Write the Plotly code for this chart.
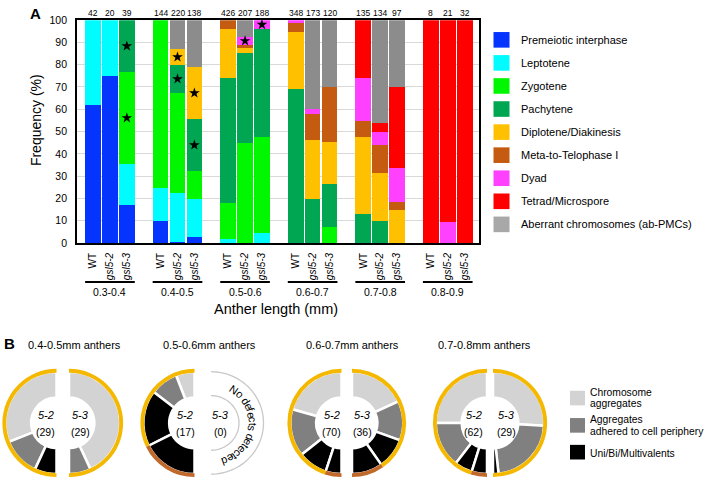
import math
import plotly.graph_objects as go

W, H = 710, 485

# ---------------- Panel A data ----------------
groups = ["0.3-0.4", "0.4-0.5", "0.5-0.6", "0.6-0.7", "0.7-0.8", "0.8-0.9"]
genotypes = ["WT", "<i>gsl5-2</i>", "<i>gsl5-3</i>"]
n_cells = [42, 20, 39, 144, 220, 138, 426, 207, 188, 348, 173, 120, 135, 134, 97, 8, 21, 32]

stage_names = ["Premeiotic interphase", "Leptotene", "Zygotene", "Pachytene",
               "Diplotene/Diakinesis", "Meta-to-Telophase I", "Dyad",
               "Tetrad/Microspore", "Aberrant chromosomes (ab-PMCs)"]
stage_colors = ["#0534FF", "#00FCFF", "#00F700", "#00A651", "#FFC000",
                "#C55A11", "#FF40FF", "#FF0000", "#8C8C8C"]
legend_colors = stage_colors[:-1] + ["#A8A8A8"]

premeiotic = [61.9, 75.0, 17.2, 9.7, 0.6, 2.5, 0, 0, 0, 0, 0, 0, 0, 0, 0, 0, 0, 0]
leptotene = [38.1, 25.0, 18.3, 14.8, 21.6, 17.2, 1.8, 0, 4.4, 0, 0, 0, 0, 0, 0, 0, 0, 0]
zygotene = [0, 0, 41.3, 75.5, 45.0, 12.4, 16.0, 45.0, 43.0, 0, 0, 6.9, 0, 0, 0, 0, 0, 0]
pachytene = [0, 0, 23.2, 0, 12.8, 23.7, 56.2, 40.1, 48.6, 68.9, 19.6, 19.4, 12.8, 9.9, 0, 0, 0, 0]
diplotene = [0, 0, 0, 0, 6.9, 23.0, 22.0, 2.2, 0, 25.7, 26.7, 19.0, 34.6, 21.5, 14.9, 0, 0, 0]
meta_telo = [0, 0, 0, 0, 0, 0, 4.0, 1.7, 0, 3.9, 11.4, 24.8, 7.3, 12.4, 3.3, 0, 0, 0]
dyad = [0, 0, 0, 0, 0, 0, 0, 3.4, 4.0, 1.5, 2.2, 0, 19.3, 5.8, 15.4, 0, 9.5, 0]
tetrad = [0, 0, 0, 0, 0, 0, 0, 0, 0, 0, 0, 0, 26.0, 4.1, 36.5, 100, 90.5, 100]
aberrant = [0, 0, 0, 0, 13.1, 21.2, 0, 7.6, 0, 0, 40.1, 29.9, 0, 46.3, 29.9, 0, 0, 0]
stage_values = [premeiotic, leptotene, zygotene, pachytene, diplotene,
                meta_telo, dyad, tetrad, aberrant]

star_bars = [2, 2, 4, 4, 5, 5, 7, 8]
star_stages = ["Zygotene", "Pachytene", "Pachytene", "Diplotene/Diakinesis",
               "Pachytene", "Diplotene/Diakinesis", "Dyad", "Dyad"]

y_ticks = list(range(0, 101, 10))

# ---------------- Panel B data ----------------
b_titles = ["0.4-0.5mm anthers", "0.5-0.6mm anthers", "0.6-0.7mm anthers", "0.7-0.8mm anthers"]
agg_52 = [18, 2, 29, 31]
adh_52 = [7, 3, 21, 18]
val_dip_52 = [4, 6, 13, 7]
val_meta_52 = [0, 6, 7, 6]
agg_53 = [25, 0, 13, 15]
adh_53 = [4, 0, 9, 13]
val_dip_53 = [0, 0, 7, 1]
val_meta_53 = [0, 0, 7, 0]
n_52 = [29, 17, 70, 62]
n_53 = [29, 0, 36, 29]
b_legend = [["Chromosome", "aggregates"], ["Aggregates", "adhered to cell periphery"],
            ["Uni/Bi/Multivalents"]]
no_defect_text = "No defects detected"

# colours for panel B
C_AGG, C_ADH, C_VAL = "#D3D3D3", "#808080", "#000000"
C_DIP, C_META = "#F5B800", "#C0692B"

FONT = "Liberation Sans, Arial, Helvetica, sans-serif"


def PX(x):
    return x / W


def PY(y):
    return 1 - y / H


def note(x, y, text, size, xref="paper", yref="paper", xanchor="center", angle=0):
    return dict(x=x, y=y, xref=xref, yref=yref, text=text, showarrow=False,
                xanchor=xanchor, yanchor="middle", textangle=angle, borderpad=0,
                font=dict(size=size, color="black", family=FONT))


fig = go.Figure()

# ---------------- Panel A: stacked bars ----------------
bar_x = [g * 4 + j for g in range(len(groups)) for j in range(len(genotypes))]
tick_text = [genotypes[j] for g in range(len(groups)) for j in range(len(genotypes))]

for name, vals, col in zip(stage_names, stage_values, stage_colors):
    fig.add_trace(go.Bar(x=bar_x, y=vals, name=name, marker=dict(color=col, line=dict(width=0)),
                         width=0.93, showlegend=False, hoverinfo="skip"))

# stars at segment midpoints
star_y = []
for b, st in zip(star_bars, star_stages):
    k = stage_names.index(st)
    base = sum(stage_values[i][b] for i in range(k))
    star_y.append(base + stage_values[k][b] / 2)
fig.add_trace(go.Scatter(x=[bar_x[b] for b in star_bars], y=star_y, mode="markers",
                         marker=dict(symbol="star", size=8, color="black", line=dict(width=0)),
                         showlegend=False, hoverinfo="skip", cliponaxis=False))

fig.update_layout(
    barmode="stack",
    xaxis=dict(domain=[PX(77), PX(479)], range=[-0.95, 22.85], tickmode="array",
               tickvals=bar_x, ticktext=tick_text, tickangle=-90, ticks="",
               tickfont=dict(size=10, color="black", family=FONT),
               showline=True, linecolor="black", linewidth=1.8, mirror=True,
               showgrid=False, zeroline=False, ticklabelstandoff=4),
    yaxis=dict(domain=[PY(243), PY(14.5)], range=[0, 100], tickmode="array",
               tickvals=y_ticks, ticks="", tickfont=dict(size=10.5, color="black", family=FONT),
               showline=True, linecolor="black", linewidth=1.8, mirror=True,
               showgrid=True, gridcolor="#D9D9D9", gridwidth=1, zeroline=False,
               ticklabelstandoff=6),
)

ann = []
shapes = []

# n labels
for xb, n in zip(bar_x, n_cells):
    ann.append(note(xb, PY(7), str(n), 8.5, xref="x"))

# group underlines and labels
for g, lab in enumerate(groups):
    shapes.append(dict(type="line", xref="x", yref="paper", x0=g * 4 - 0.47, x1=g * 4 + 2.47,
                       y0=PY(283), y1=PY(283), line=dict(color="black", width=2)))
    ann.append(note(g * 4 + 1, PY(293), lab, 10.5, xref="x"))

ann.append(note(PX(276), PY(311), "Anther length (mm)", 14.5))
ann.append(note(PX(36), PY(117), "Frequency (%)", 14, angle=-90))
ann.append(note(PX(35), PY(8), "<b>A</b>", 15))

# legend A
for i, (name, col) in enumerate(zip(stage_names, legend_colors)):
    yc = 34.7 + i * 23.65
    shapes.append(dict(type="rect", xref="paper", yref="paper", x0=PX(493.5), x1=PX(509.5),
                       y0=PY(yc + 8), y1=PY(yc - 8), fillcolor=col, line=dict(width=0)))
    ann.append(note(PX(520), PY(yc), name, 11, xanchor="left"))

# ---------------- Panel B: half donuts ----------------
cy = 427.5
R_OUT, R_RING_IN, R_IN, R_HOLE = 55.5, 51.5, 52.5, 26.0
left_cx = [56.5, 194.5, 341.5, 487.0]
right_cx = [69.0, 211.0, 352.0, 493.0]
label_off = [11, 9.5, 10, 13.5]
title_cx = [74.5, 209, 352.5, 484.5]
TRANSP = "rgba(0,0,0,0)"


def dom(cx, r):
    return dict(x=[PX(cx - r), PX(cx + r)], y=[PY(cy + r), PY(cy - r)])


def half_donut(cx, vals, cols, side, r, hole, line_w):
    v = [a for a in vals if a > 0]
    c = [cc for a, cc in zip(vals, cols) if a > 0]
    if not v:
        return
    tot = sum(v)
    lc = ["white"] * len(v)
    lw = [line_w] * len(v)
    if side == "left":
        values = [tot] + v
        colors = [TRANSP] + c
        lcol = [TRANSP] + lc
        lwid = [0] + lw
        direction = "counterclockwise"
    else:
        values = v + [tot]
        colors = c + [TRANSP]
        lcol = lc + [TRANSP]
        lwid = lw + [0]
        direction = "clockwise"
    fig.add_trace(go.Pie(values=values, marker=dict(colors=colors, line=dict(color=lcol, width=lwid)),
                         sort=False, direction=direction, rotation=0, hole=hole,
                         domain=dom(cx, r), textinfo="none", hoverinfo="skip",
                         showlegend=False))


for d in range(4):
    half_donut(left_cx[d], [agg_52[d], adh_52[d], val_dip_52[d], val_meta_52[d]],
               [C_AGG, C_ADH, C_VAL, C_VAL], "left", R_IN, R_HOLE / R_IN, 2.5)
    half_donut(right_cx[d], [agg_53[d], adh_53[d], val_dip_53[d], val_meta_53[d]],
               [C_AGG, C_ADH, C_VAL, C_VAL], "right", R_IN, R_HOLE / R_IN, 2.5)
    half_donut(left_cx[d], [agg_52[d] + adh_52[d] + val_dip_52[d], val_meta_52[d]],
               [C_DIP, C_META], "left", R_OUT, R_RING_IN / R_OUT, 0)
    half_donut(right_cx[d], [agg_53[d] + adh_53[d] + val_dip_53[d], val_meta_53[d]],
               [C_DIP, C_META], "right", R_OUT, R_RING_IN / R_OUT, 0)

    ann.append(note(PX(left_cx[d] - label_off[d]), PY(419.5), "<i>5-2</i>", 11))
    ann.append(note(PX(left_cx[d] - label_off[d]), PY(437), "(%d)" % n_52[d], 10.5))
    ann.append(note(PX(right_cx[d] + label_off[d]), PY(419.5), "<i>5-3</i>", 11))
    ann.append(note(PX(right_cx[d] + label_off[d]), PY(437), "(%d)" % n_53[d], 10.5))
    ann.append(note(PX(title_cx[d]), PY(348), b_titles[d], 11))

    if n_53[d] == 0:
        cx0 = right_cx[d]
        for rr in (52.5, 28.0):
            pts = []
            for k in range(0, 61):
                th = math.radians(k * 3)
                pts.append((PX(cx0 + rr * math.sin(th)), PY(cy - rr * math.cos(th))))
            path = "M " + " L ".join("%.5f,%.5f" % p for p in pts)
            shapes.append(dict(type="path", xref="paper", yref="paper", path=path,
                               line=dict(color="#C8C8C8", width=1.3)))
        widths = {"N": 7.2, "o": 5.6, " ": 2.8, "d": 5.6, "e": 5.6, "f": 2.8, "c": 5.0,
                  "t": 2.8, "s": 5.0}
        fs = 11
        rt = 41.5
        ang = math.radians(29)
        for ch in no_defect_text:
            w = widths.get(ch, 5.5) * fs / 10
            mid = ang + (w / 2) / rt
            if ch != " ":
                ann.append(note(PX(cx0 + rt * math.sin(mid)), PY(cy - rt * math.cos(mid)),
                                ch, fs, angle=math.degrees(mid)))
            ang += w / rt

ann.append(note(PX(9), PY(346), "<b>B</b>", 15))

# legend B
b_leg_cols = [C_AGG, C_ADH, C_VAL]
b_leg_y = [402, 430, 457.5]
for cc, yc, lines in zip(b_leg_cols, b_leg_y, b_legend):
    shapes.append(dict(type="rect", xref="paper", yref="paper", x0=PX(570), x1=PX(585),
                       y0=PY(yc + 7.5), y1=PY(yc - 7.5), fillcolor=cc, line=dict(width=0)))
    ys = [yc - 5.8, yc + 5.8] if len(lines) == 2 else [yc + 1.5]
    for t, yy in zip(lines, ys):
        ann.append(note(PX(589), PY(yy), t, 10.3, xanchor="left"))

fig.update_layout(width=W, height=H, margin=dict(l=0, r=0, t=0, b=0),
                  paper_bgcolor="white", plot_bgcolor="rgba(0,0,0,0)",
                  annotations=ann, shapes=shapes, font=dict(family=FONT, color="black"),
                  bargap=0)

fig.write_html("out.html", config={"displayModeBar": False},
               post_script="document.body.style.margin='0px';")
